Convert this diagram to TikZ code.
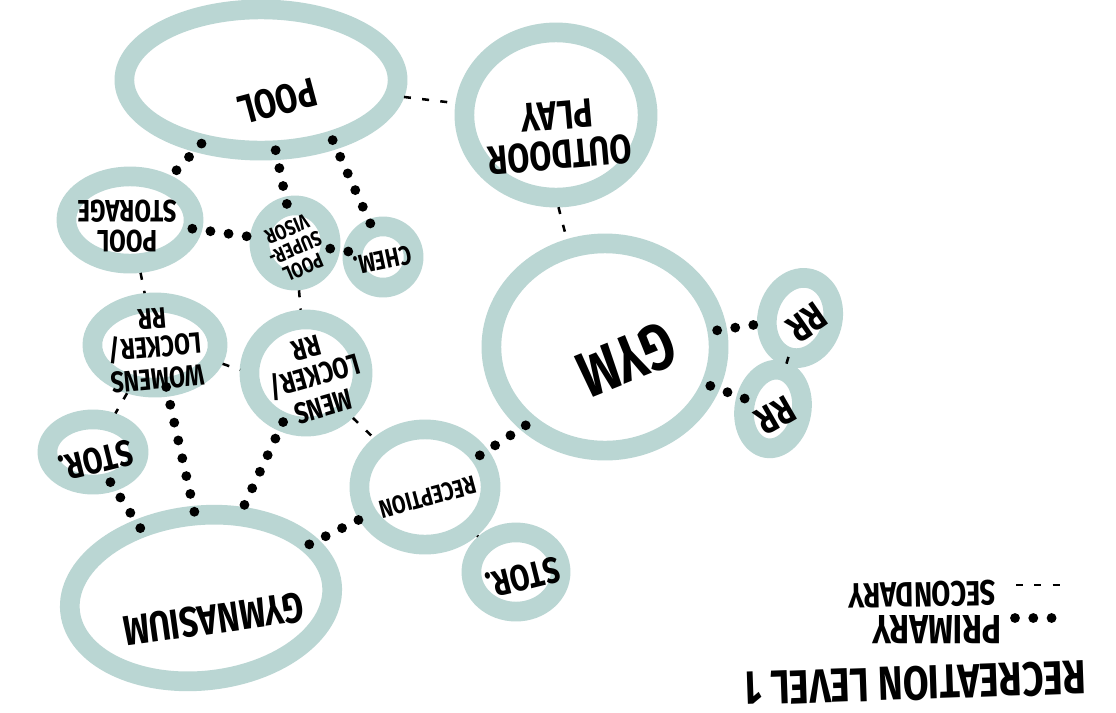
\documentclass[tikz,border=0pt]{standalone}
\usepackage{fontspec}
\setmainfont{Fira Sans}
\usepackage{graphicx}
\usetikzlibrary{shapes.geometric}
\definecolor{bubblegray}{RGB}{186,214,211}
\renewcommand\arraystretch{0.9}
% upside-down marker lettering
\newcommand\handtext[2][180]{\rotatebox[origin=c]{#1}{\scalebox{0.78}[1]{\begin{tabular}{@{}c@{}}#2\end{tabular}}}}
\newcommand\fsz[1]{\fontsize{#1}{#1}\selectfont\bfseries}
\tikzset{
  bubble/.style={
    ellipse,
    draw=bubblegray,
    line width=14pt,
    inner sep=0pt,
    outer sep=0pt
  },
  tag/.style={
    inner sep=0pt,
    text=black
  },
  primary/.style={
    draw=black,
    line width=7pt,
    line cap=round,
    dash pattern=on 0pt off 13pt
  },
  secondary/.style={
    draw=black,
    line width=1.8pt,
    dash pattern=on 5pt off 8pt,
    shorten <=7pt,
    shorten >=7pt
  }
}

\begin{document}
\begin{tikzpicture}[x=0.025cm, y=-0.025cm]
\path[use as bounding box, fill=white] (0,0) rectangle (1116,712);

% bubbles
\node[bubble, minimum width=6.83cm, minimum height=3.53cm] (pool) at (261,80) {};
\node[bubble, minimum width=4.58cm, minimum height=4.13cm] (outdoor) at (556,115) {};
\node[bubble, minimum width=3.18cm, minimum height=2.18cm] (poolstor) at (130,220) {};
\node[bubble, minimum width=1.78cm, minimum height=1.88cm] (super) at (295,243) {};
\node[bubble, minimum width=1.53cm, minimum height=1.53cm] (chem) at (383,257) {};
\node[bubble, minimum width=3.13cm, minimum height=2.13cm] (women) at (155,345) {};
\node[bubble, minimum width=2.83cm, minimum height=2.68cm] (men) at (306,373) {};
\node[bubble, minimum width=2.28cm, minimum height=1.63cm] (storleft) at (93,452) {};
\node[bubble, minimum width=3.28cm, minimum height=2.88cm] (reception) at (425,487) {};
\node[bubble, minimum width=2.23cm, minimum height=1.98cm] (storlow) at (516,572) {};
\node[bubble, minimum width=5.68cm, minimum height=5.18cm] (gym) at (605,347) {};
\node[bubble, minimum width=1.63cm, minimum height=2.03cm, rotate=-15] (rrtop) at (800,318) {};
\node[bubble, minimum width=1.43cm, minimum height=1.98cm, rotate=-10] (rrbot) at (773,409) {};
\node[bubble, minimum width=6.58cm, minimum height=4.13cm, rotate=6] (gymnasium) at (201,598) {};

% names, written upside down
\node[tag, font=\fsz{29}] (pool-tag) at (276,96) {\handtext[195]{POOL}};
\node[tag, font=\fsz{29}] (outdoor-tag) at (558,130) {\handtext[185]{OUTDOOR\\PLAY}};
\node[tag, font=\fsz{22}] (poolstor-tag) at (127,222) {\handtext[180]{POOL\\STORAGE}};
\node[tag, font=\fsz{15}] (super-tag) at (294,246) {\handtext[203]{POOL\\SUPER-\\VISOR}};
\node[tag, font=\fsz{19}] (chem-tag) at (382,257) {\handtext[192]{CHEM.}};
\node[tag, font=\fsz{21}] (women-tag) at (155,345) {\handtext[185]{WOMENS\\LOCKER/\\RR}};
\node[tag, font=\fsz{21}] (men-tag) at (314,374) {\handtext[196]{MENS\\LOCKER/\\RR}};
\node[tag, font=\fsz{26}] (storleft-tag) at (95,456) {\handtext[194]{STOR.}};
\node[tag, font=\fsz{18}] (reception-tag) at (427,494) {\handtext[195]{RECEPTION}};
\node[tag, font=\fsz{26}] (storlow-tag) at (522,573) {\handtext[194]{STOR.}};
\node[tag, font=\fsz{46}] (gym-tag) at (624,352) {\handtext[202]{GYM}};
\node[tag, font=\fsz{28}] (rrtop-tag) at (804,318) {\handtext[215]{RR}};
\node[tag, font=\fsz{28}] (rrbot-tag) at (773,411) {\handtext[210]{RR}};
\node[tag, font=\fsz{30}] (gymnasium-tag) at (213,614) {\handtext[188]{GYMNASIUM}};

% primary links
\draw[primary] (pool) -- (poolstor);
\draw[primary] (pool) -- (super);
\draw[primary] (pool.-40) -- (chem.110);
\draw[primary] (poolstor) -- (super);
\draw[primary] (super) -- (chem);
\draw[primary] (women.-75) -- (gymnasium.88);
\draw[primary] (men) -- (gymnasium);
\draw[primary] (storleft.-60) -- (gymnasium.125);
\draw[primary] (gymnasium) -- (reception);
\draw[primary] (reception.30) -- (gym.225);
\draw[primary] (gym) -- (rrtop);
\draw[primary] (gym) -- (rrbot);

% secondary links
\draw[secondary] (pool) -- (outdoor);
\draw[secondary] (outdoor.-90) -- (gym.110);
\draw[secondary] (poolstor) -- (women);
\draw[secondary] (super) -- (men);
\draw[secondary] (women.-15) -- (men.180);
\draw[secondary] (women) -- (storleft);
\draw[secondary] (men) -- (reception);
\draw[secondary] (reception) -- (storlow);
\draw[secondary, shorten <=0pt, shorten >=0pt] (rrtop) -- (rrbot);

% key
\node[tag, font=\fsz{34}] (title) at (915,677) {\handtext[182]{RECREATION LEVEL 1}};
\node[tag, font=\fsz{29}] (primarykey) at (937,624) {\handtext{PRIMARY}};
\node[tag, font=\fsz{25}] (secondarykey) at (922,590) {\handtext[181]{SECONDARY}};
\coordinate (pk-a) at (1015,618);
\coordinate (pk-b) at (1057,618);
\coordinate (sk-a) at (1016,585);
\coordinate (sk-b) at (1062,585);
\draw[primary] (pk-a) -- (pk-b);
\draw[secondary, shorten <=0pt, shorten >=0pt] (sk-a) -- (sk-b);
\end{tikzpicture}
\end{document}
